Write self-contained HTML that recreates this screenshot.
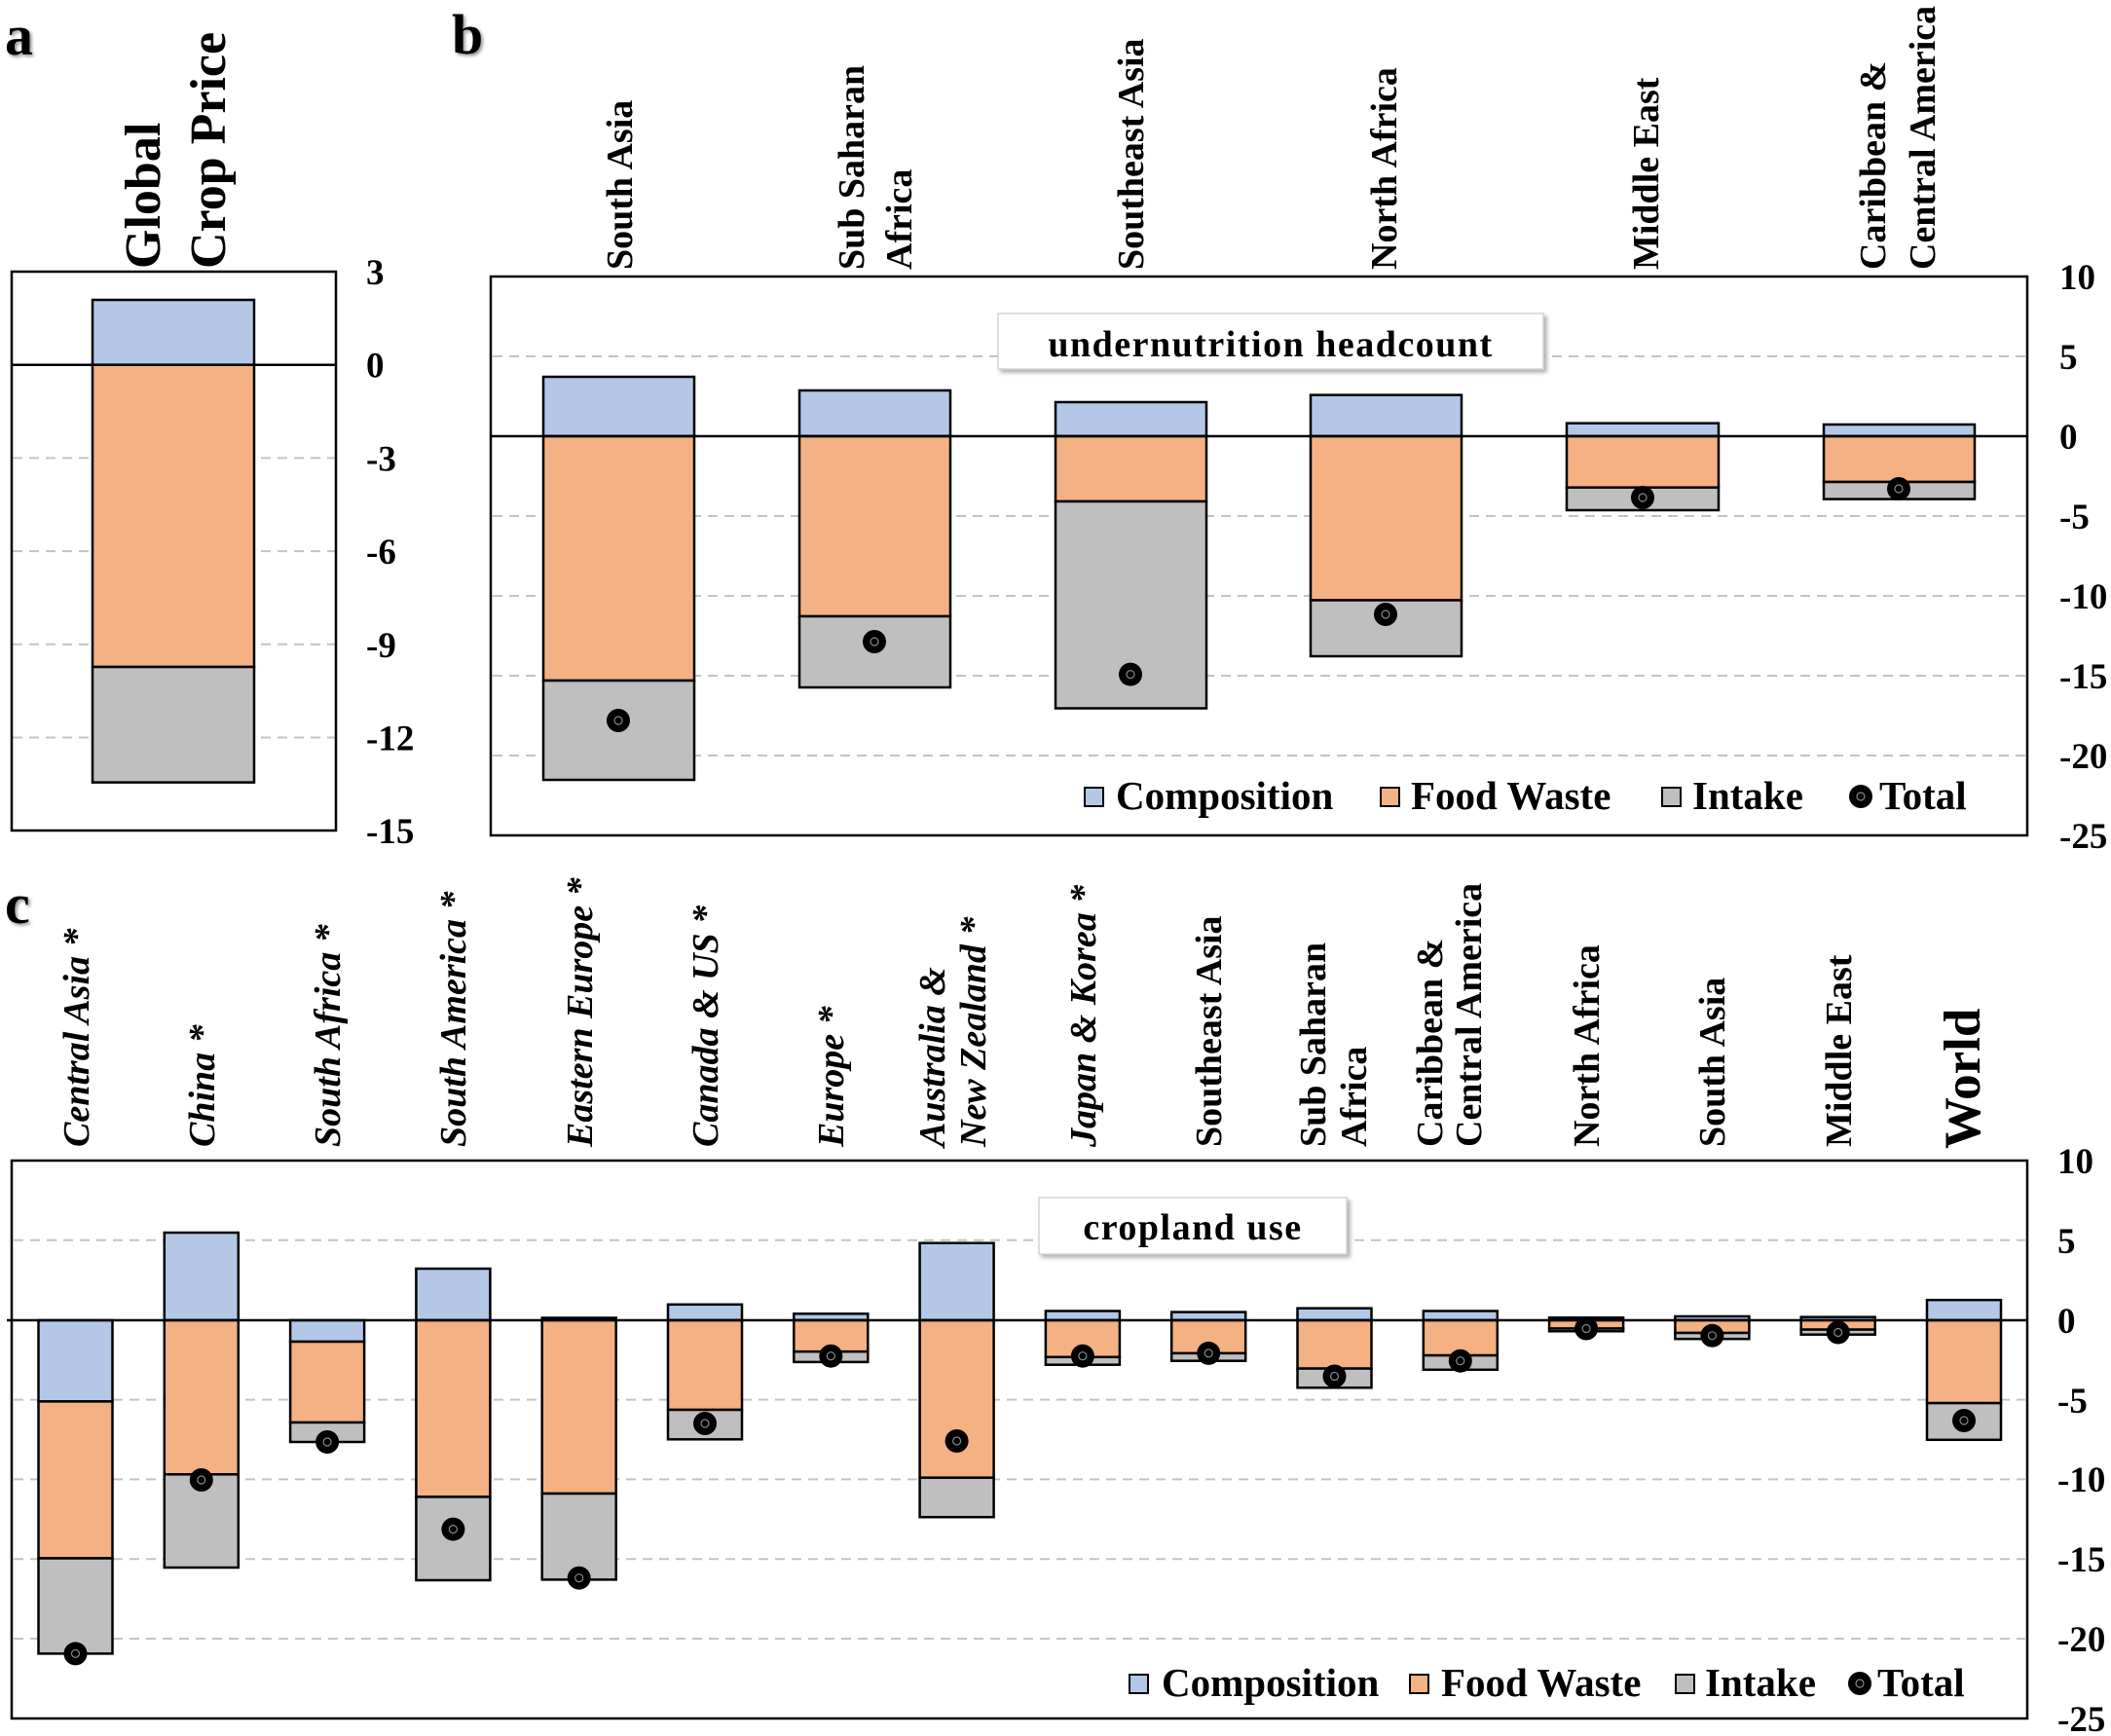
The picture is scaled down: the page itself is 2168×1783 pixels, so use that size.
<!DOCTYPE html>
<html>
<head>
<meta charset="utf-8">
<style>
  html,body{margin:0;padding:0;background:#fff;}
  svg{display:block;}
  text{font-family:"Liberation Serif","Times New Roman",serif;font-weight:bold;fill:#000;}
  .tick{font-size:37px;}
  .lab{font-size:38px;}
  .it{font-style:italic;}
  .leg{font-size:41px;}
  .grid{stroke:#c3c3c3;stroke-width:2;stroke-dasharray:10 7;}
  .frame{fill:none;stroke:#000;stroke-width:2.5;}
  .bl{fill:#b4c7e7;stroke:#000;stroke-width:2.5;}
  .or{fill:#f4b183;stroke:#000;stroke-width:2.5;}
  .gr{fill:#bfbfbf;stroke:#000;stroke-width:2.5;}
  .zero{stroke:#000;stroke-width:2.5;}
</style>
</head>
<body>
<svg width="2168" height="1783" viewBox="0 0 2168 1783" xmlns="http://www.w3.org/2000/svg">
<defs>
  <filter id="sh" x="-20%" y="-20%" width="150%" height="150%">
    <feDropShadow dx="2" dy="2" stdDeviation="1.5" flood-color="#777" flood-opacity="0.8"/>
  </filter>
  <filter id="boxsh" x="-10%" y="-30%" width="120%" height="170%">
    <feDropShadow dx="3" dy="3" stdDeviation="2" flood-color="#999" flood-opacity="0.8"/>
  </filter>
  <g id="dot">
    <circle r="12" fill="#000"/>
    <circle r="4" fill="none" stroke="#888" stroke-width="1.2"/>
  </g>
</defs>
<rect width="2168" height="1783" fill="#fff"/>

<!-- ================= Panel a ================= -->
<text x="5" y="56" style="font-size:58px" filter="url(#sh)">a</text>
<text transform="translate(164,276) rotate(-90)" style="font-size:52px">Global</text>
<text transform="translate(231,276) rotate(-90)" style="font-size:52px">Crop Price</text>

<line class="grid" x1="13" y1="470.4" x2="344" y2="470.4"/>
<line class="grid" x1="13" y1="566.1" x2="344" y2="566.1"/>
<line class="grid" x1="13" y1="661.8" x2="344" y2="661.8"/>
<line class="grid" x1="13" y1="757.5" x2="344" y2="757.5"/>

<rect class="bl" x="95" y="308" width="166" height="66.7"/>
<rect class="or" x="95" y="374.7" width="166" height="310.3"/>
<rect class="gr" x="95" y="685" width="166" height="118.6"/>
<line class="zero" x1="12" y1="374.7" x2="345" y2="374.7"/>
<rect class="frame" x="12" y="279" width="333" height="574"/>

<text class="tick" x="376" y="292">3</text>
<text class="tick" x="376" y="387.7">0</text>
<text class="tick" x="376" y="483.4">-3</text>
<text class="tick" x="376" y="579.1">-6</text>
<text class="tick" x="376" y="674.8">-9</text>
<text class="tick" x="376" y="770.5">-12</text>
<text class="tick" x="376" y="866">-15</text>

<!-- ================= Panel b ================= -->
<text x="464" y="55" style="font-size:58px" filter="url(#sh)">b</text>

<text class="lab" transform="translate(649,277) rotate(-90)">South Asia</text>
<text class="lab" transform="translate(887,277) rotate(-90)">Sub Saharan</text>
<text class="lab" transform="translate(936,277) rotate(-90)">Africa</text>
<text class="lab" transform="translate(1174,277) rotate(-90)">Southeast Asia</text>
<text class="lab" transform="translate(1434,277) rotate(-90)">North Africa</text>
<text class="lab" transform="translate(1703,277) rotate(-90)">Middle East</text>
<text class="lab" transform="translate(1936,277) rotate(-90)">Caribbean &amp;</text>
<text class="lab" transform="translate(1987,277) rotate(-90)">Central America</text>

<line class="grid" x1="506" y1="366" x2="2080" y2="366"/>
<line class="grid" x1="506" y1="530" x2="2080" y2="530"/>
<line class="grid" x1="506" y1="612" x2="2080" y2="612"/>
<line class="grid" x1="506" y1="694" x2="2080" y2="694"/>
<line class="grid" x1="506" y1="776" x2="2080" y2="776"/>

<!-- title box b -->
<rect x="1025" y="322" width="560" height="57" fill="#fff" stroke="#d4d4d4" stroke-width="1.5" filter="url(#boxsh)"/>
<text x="1305" y="366" text-anchor="middle" style="font-size:38px;letter-spacing:1.5px">undernutrition headcount</text>

<!-- bars b -->
<rect class="bl" x="558" y="387" width="155" height="61"/>
<rect class="or" x="558" y="448" width="155" height="251"/>
<rect class="gr" x="558" y="699" width="155" height="102"/>

<rect class="bl" x="821" y="401" width="155" height="47"/>
<rect class="or" x="821" y="448" width="155" height="185"/>
<rect class="gr" x="821" y="633" width="155" height="73"/>

<rect class="bl" x="1084" y="413" width="155" height="35"/>
<rect class="or" x="1084" y="448" width="155" height="67"/>
<rect class="gr" x="1084" y="515" width="155" height="212.5"/>

<rect class="bl" x="1346" y="405.7" width="155" height="42.3"/>
<rect class="or" x="1346" y="448" width="155" height="168.5"/>
<rect class="gr" x="1346" y="616.5" width="155" height="57.5"/>

<rect class="bl" x="1609" y="434.7" width="156" height="13.3"/>
<rect class="or" x="1609" y="448" width="156" height="52.7"/>
<rect class="gr" x="1609" y="500.7" width="156" height="23.3"/>

<rect class="bl" x="1873" y="436" width="155" height="12"/>
<rect class="or" x="1873" y="448" width="155" height="47"/>
<rect class="gr" x="1873" y="495" width="155" height="17.6"/>

<line class="zero" x1="504" y1="448" x2="2082" y2="448"/>

<use href="#dot" x="635" y="740"/>
<use href="#dot" x="898" y="659"/>
<use href="#dot" x="1161" y="692.6"/>
<use href="#dot" x="1423" y="631"/>
<use href="#dot" x="1687" y="511"/>
<use href="#dot" x="1950" y="502"/>

<!-- legend b -->
<rect x="1114" y="809" width="19" height="19" fill="#b4c7e7" stroke="#000" stroke-width="2"/>
<text class="leg" x="1146" y="831">Composition</text>
<rect x="1418" y="809" width="19" height="19" fill="#f4b183" stroke="#000" stroke-width="2"/>
<text class="leg" x="1449" y="831">Food Waste</text>
<rect x="1707" y="809" width="19" height="19" fill="#bfbfbf" stroke="#000" stroke-width="2"/>
<text class="leg" x="1738" y="831">Intake</text>
<use href="#dot" x="1911" y="818"/>
<text class="leg" x="1930" y="831">Total</text>

<rect class="frame" x="504" y="284" width="1578" height="574"/>

<text class="tick" x="2115" y="297">10</text>
<text class="tick" x="2115" y="379">5</text>
<text class="tick" x="2115" y="461">0</text>
<text class="tick" x="2115" y="543">-5</text>
<text class="tick" x="2115" y="625">-10</text>
<text class="tick" x="2115" y="707">-15</text>
<text class="tick" x="2115" y="789">-20</text>
<text class="tick" x="2115" y="871">-25</text>

<!-- ================= Panel c ================= -->
<text x="5" y="948" style="font-size:58px" filter="url(#sh)">c</text>

<text class="lab it" transform="translate(91,1178) rotate(-90)">Central  Asia *</text>
<text class="lab it" transform="translate(220,1178) rotate(-90)">China *</text>
<text class="lab it" transform="translate(349,1178) rotate(-90)">South Africa *</text>
<text class="lab it" transform="translate(478,1178) rotate(-90)">South America *</text>
<text class="lab it" transform="translate(608,1178) rotate(-90)">Eastern Europe *</text>
<text class="lab it" transform="translate(737,1178) rotate(-90)">Canada &amp; US *</text>
<text class="lab it" transform="translate(866,1178) rotate(-90)">Europe *</text>
<text class="lab it" transform="translate(970,1178) rotate(-90)">Australia &amp;</text>
<text class="lab it" transform="translate(1012,1178) rotate(-90)">New Zealand *</text>
<text class="lab it" transform="translate(1125,1178) rotate(-90)">Japan &amp; Korea *</text>
<text class="lab" transform="translate(1254,1178) rotate(-90)">Southeast Asia</text>
<text class="lab" transform="translate(1361,1178) rotate(-90)">Sub Saharan</text>
<text class="lab" transform="translate(1403,1178) rotate(-90)">Africa</text>
<text class="lab" transform="translate(1481,1178) rotate(-90)">Caribbean &amp;</text>
<text class="lab" transform="translate(1521,1178) rotate(-90)">Central America</text>
<text class="lab" transform="translate(1642,1178) rotate(-90)">North Africa</text>
<text class="lab" transform="translate(1771,1178) rotate(-90)">South Asia</text>
<text class="lab" transform="translate(1901,1178) rotate(-90)">Middle East</text>
<text transform="translate(2033,1180) rotate(-90)" style="font-size:53px">World</text>

<line class="grid" x1="14" y1="1273.8" x2="2080" y2="1273.8"/>
<line class="grid" x1="14" y1="1437.6" x2="2080" y2="1437.6"/>
<line class="grid" x1="14" y1="1519.4" x2="2080" y2="1519.4"/>
<line class="grid" x1="14" y1="1601.3" x2="2080" y2="1601.3"/>
<line class="grid" x1="14" y1="1683.1" x2="2080" y2="1683.1"/>

<!-- title box c -->
<rect x="1067" y="1230" width="316" height="58" fill="#fff" stroke="#d4d4d4" stroke-width="1.5" filter="url(#boxsh)"/>
<text x="1225" y="1273" text-anchor="middle" style="font-size:38px;letter-spacing:1.5px">cropland use</text>

<!-- bars c -->
<rect class="bl" x="39.5" y="1356" width="76" height="83.4"/>
<rect class="or" x="39.5" y="1439.4" width="76" height="161.1"/>
<rect class="gr" x="39.5" y="1600.5" width="76" height="97.9"/>

<rect class="bl" x="168.8" y="1266" width="76" height="90"/>
<rect class="or" x="168.8" y="1356" width="76" height="158.3"/>
<rect class="gr" x="168.8" y="1514.3" width="76" height="95.7"/>

<rect class="bl" x="298.1" y="1356" width="76" height="22"/>
<rect class="or" x="298.1" y="1378" width="76" height="83"/>
<rect class="gr" x="298.1" y="1461" width="76" height="20"/>

<rect class="bl" x="427.4" y="1303" width="76" height="53"/>
<rect class="or" x="427.4" y="1356" width="76" height="181.4"/>
<rect class="gr" x="427.4" y="1537.4" width="76" height="85.6"/>

<rect class="bl" x="556.7" y="1353.5" width="76" height="2.5"/>
<rect class="or" x="556.7" y="1356" width="76" height="178"/>
<rect class="gr" x="556.7" y="1534" width="76" height="88.4"/>

<rect class="bl" x="686" y="1339.8" width="76" height="16.2"/>
<rect class="or" x="686" y="1356" width="76" height="92"/>
<rect class="gr" x="686" y="1448" width="76" height="30.3"/>

<rect class="bl" x="815.3" y="1349.3" width="76" height="6.7"/>
<rect class="or" x="815.3" y="1356" width="76" height="32.2"/>
<rect class="gr" x="815.3" y="1388.2" width="76" height="10.7"/>

<rect class="bl" x="944.6" y="1276.7" width="76" height="79.3"/>
<rect class="or" x="944.6" y="1356" width="76" height="161.7"/>
<rect class="gr" x="944.6" y="1517.7" width="76" height="40.5"/>

<rect class="bl" x="1073.9" y="1346.5" width="76" height="9.5"/>
<rect class="or" x="1073.9" y="1356" width="76" height="37.8"/>
<rect class="gr" x="1073.9" y="1393.8" width="76" height="7.9"/>

<rect class="bl" x="1203.2" y="1347.6" width="76" height="8.4"/>
<rect class="or" x="1203.2" y="1356" width="76" height="33.9"/>
<rect class="gr" x="1203.2" y="1389.9" width="76" height="7.8"/>

<rect class="bl" x="1332.5" y="1343.7" width="76" height="12.3"/>
<rect class="or" x="1332.5" y="1356" width="76" height="49.6"/>
<rect class="gr" x="1332.5" y="1405.6" width="76" height="19.7"/>

<rect class="bl" x="1461.8" y="1346.5" width="76" height="9.5"/>
<rect class="or" x="1461.8" y="1356" width="76" height="36.1"/>
<rect class="gr" x="1461.8" y="1392.1" width="76" height="14.7"/>

<rect class="bl" x="1591.1" y="1353.3" width="76" height="2.7"/>
<rect class="or" x="1591.1" y="1356" width="76" height="8.5"/>
<rect class="gr" x="1591.1" y="1364.5" width="76" height="2.8"/>

<rect class="bl" x="1720.4" y="1352" width="76" height="4"/>
<rect class="or" x="1720.4" y="1356" width="76" height="13"/>
<rect class="gr" x="1720.4" y="1369" width="76" height="6.2"/>

<rect class="bl" x="1849.7" y="1352.7" width="76" height="3.3"/>
<rect class="or" x="1849.7" y="1356" width="76" height="9.6"/>
<rect class="gr" x="1849.7" y="1365.6" width="76" height="5.1"/>

<rect class="bl" x="1979" y="1335.2" width="76" height="20.8"/>
<rect class="or" x="1979" y="1356" width="76" height="85.1"/>
<rect class="gr" x="1979" y="1441.1" width="76" height="37.7"/>

<line class="zero" x1="7" y1="1356" x2="2082" y2="1356"/>

<use href="#dot" x="77.5" y="1698.4"/>
<use href="#dot" x="206.8" y="1520"/>
<use href="#dot" x="336.1" y="1481"/>
<use href="#dot" x="465.4" y="1570.6"/>
<use href="#dot" x="594.7" y="1620.7"/>
<use href="#dot" x="724" y="1462"/>
<use href="#dot" x="853.3" y="1392.7"/>
<use href="#dot" x="982.6" y="1480"/>
<use href="#dot" x="1111.9" y="1392.7"/>
<use href="#dot" x="1241.2" y="1389.9"/>
<use href="#dot" x="1370.5" y="1413.5"/>
<use href="#dot" x="1499.8" y="1397.7"/>
<use href="#dot" x="1629.1" y="1364.5"/>
<use href="#dot" x="1758.4" y="1371.8"/>
<use href="#dot" x="1887.7" y="1368.5"/>
<use href="#dot" x="2017" y="1459"/>

<!-- legend c -->
<rect x="1160" y="1720" width="19" height="19" fill="#b4c7e7" stroke="#000" stroke-width="2"/>
<text class="leg" x="1193" y="1742">Composition</text>
<rect x="1448" y="1720" width="19" height="19" fill="#f4b183" stroke="#000" stroke-width="2"/>
<text class="leg" x="1480" y="1742">Food Waste</text>
<rect x="1721" y="1720" width="19" height="19" fill="#bfbfbf" stroke="#000" stroke-width="2"/>
<text class="leg" x="1751" y="1742">Intake</text>
<use href="#dot" x="1910" y="1729"/>
<text class="leg" x="1928" y="1742">Total</text>

<rect class="frame" x="12" y="1192" width="2070" height="573"/>

<text class="tick" x="2113" y="1205">10</text>
<text class="tick" x="2113" y="1287">5</text>
<text class="tick" x="2113" y="1369">0</text>
<text class="tick" x="2113" y="1451">-5</text>
<text class="tick" x="2113" y="1532">-10</text>
<text class="tick" x="2113" y="1614">-15</text>
<text class="tick" x="2113" y="1696">-20</text>
<text class="tick" x="2113" y="1778">-25</text>
</svg>
</body>
</html>
